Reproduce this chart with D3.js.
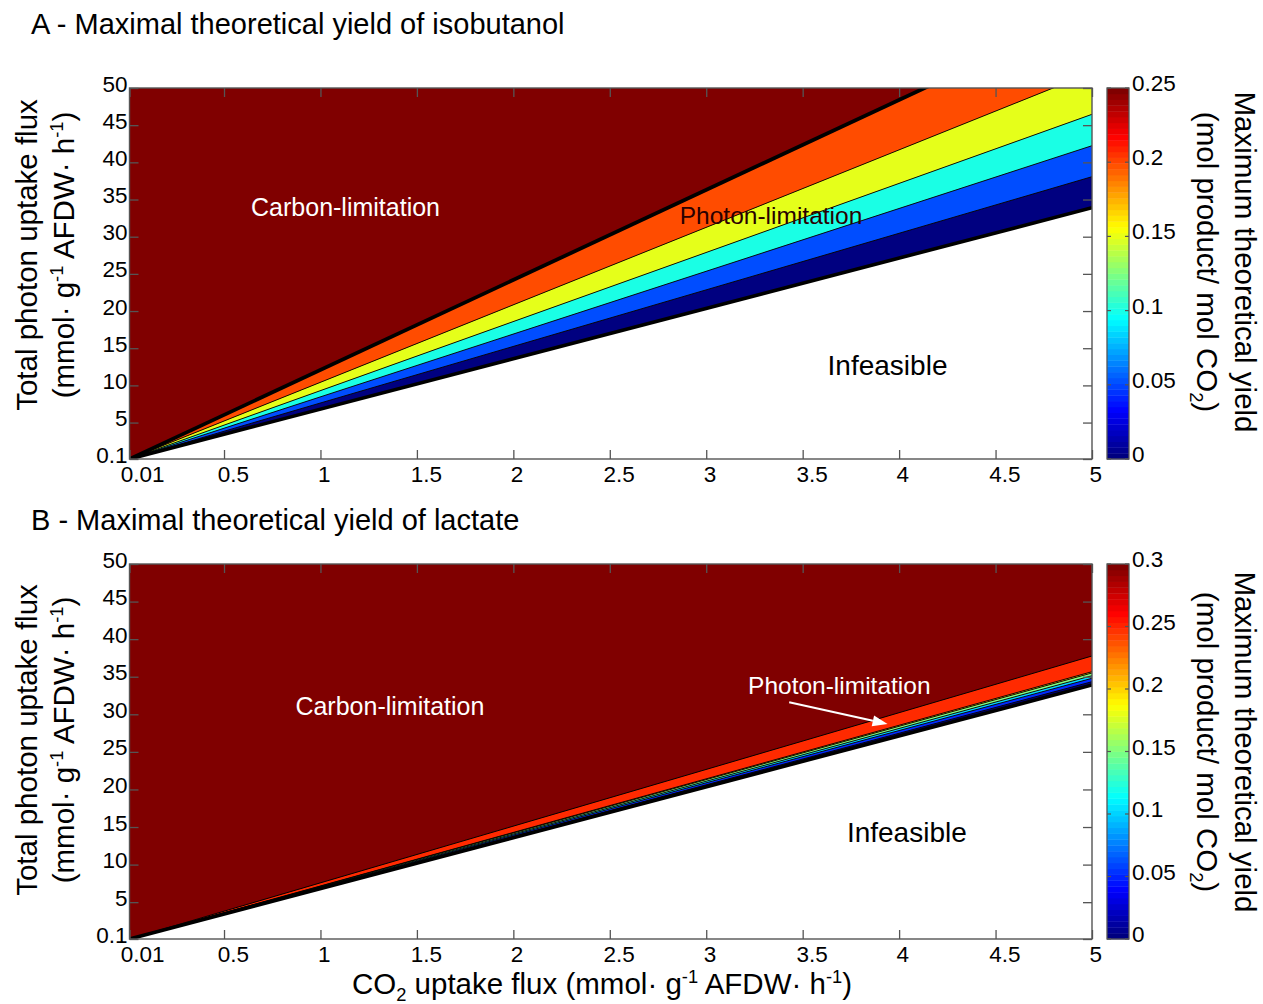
<!DOCTYPE html>
<html>
<head>
<meta charset="utf-8">
<script src="https://cdn.jsdelivr.net/npm/d3@7"></script>
<style>
  body { margin: 0; background: #fff; }
  svg text { font-family: "Liberation Sans", Arial, Helvetica, sans-serif; fill: #000; }
</style>
</head>
<body>
<svg id="fig" width="1263" height="1004"></svg>
<script>
// ---- data ---------------------------------------------------------------
const co2Domain = [0.01, 5];
const photonDomain = [0.1, 50];
const co2Ticks = [0.01, 0.5, 1, 1.5, 2, 2.5, 3, 3.5, 4, 4.5, 5];
const co2TickLabels = ["0.01", "0.5", "1", "1.5", "2", "2.5", "3", "3.5", "4", "4.5", "5"];
const photonTicks = [0.1, 5, 10, 15, 20, 25, 30, 35, 40, 45, 50];
const photonTickLabels = ["0.1", "5", "10", "15", "20", "25", "30", "35", "40", "45", "50"];

// Isobutanol: yield contour levels and the photon flux at which each
// contour line reaches CO2 uptake = 5 (all contours start at the origin corner)
const isoLevels = [0, 0.05, 0.1, 0.15, 0.2, 0.25];
const isoPhotonAtCO2Max = [33.9, 38.07, 42.24, 46.46, 52.1, 60.5];
const isoColorTicks = [0, 0.05, 0.1, 0.15, 0.2, 0.25];
const isoColorTickLabels = ["0", "0.05", "0.1", "0.15", "0.2", "0.25"];

// Lactate: same layout of contours
const lacLevels = [0, 0.05, 0.1, 0.15, 0.2, 0.25, 0.3];
const lacPhotonAtCO2Max = [33.9, 34.34, 34.79, 35.14, 35.5, 35.67, 37.76];
const lacColorTicks = [0, 0.05, 0.1, 0.15, 0.2, 0.25, 0.3];
const lacColorTickLabels = ["0", "0.05", "0.1", "0.15", "0.2", "0.25", "0.3"];

// ---- helpers ------------------------------------------------------------
function jet(t) {
  const c = v => Math.max(0, Math.min(1, v));
  const r = c(Math.min(4 * t - 1.5, -4 * t + 4.5));
  const g = c(Math.min(4 * t - 0.5, -4 * t + 3.5));
  const b = c(Math.min(4 * t + 0.5, -4 * t + 2.5));
  return d3.rgb(r * 255, g * 255, b * 255).formatHex();
}

const svg = d3.select("#fig");
const LEFT = 129.5, RIGHT = 1092;
const CB_X = 1107, CB_W = 22;
const AXIS_COLOR = "#555";
const LABEL_SIZE = 29.5;

// text with superscript / subscript pieces as tspans
function richText(sel, parts, size) {
  let pending = 0;
  parts.forEach(p => {
    if (typeof p === "string") {
      const ts = sel.append("tspan").text(p);
      if (pending) ts.attr("dy", pending);
      pending = 0;
    } else {
      const shift = p.sup ? -size * 0.38 : size * 0.25;
      const ts = sel.append("tspan").attr("dy", shift + pending).attr("font-size", size * 0.62).text(p.sup || p.sub);
      pending = -shift;
    }
  });
}

function drawPanel(cfg) {
  const x = d3.scaleLinear().domain(co2Domain).range([LEFT, RIGHT]);
  const y = d3.scaleLinear().domain(photonDomain).range([cfg.bottom, cfg.top]);
  const g = svg.append("g");
  const clipId = "clip-" + cfg.id;
  g.append("clipPath").attr("id", clipId)
    .append("rect")
    .attr("x", x(co2Domain[0])).attr("y", y(photonDomain[1]))
    .attr("width", x(co2Domain[1]) - x(co2Domain[0]))
    .attr("height", y(photonDomain[0]) - y(photonDomain[1]));

  const plot = g.append("g").attr("clip-path", `url(#${clipId})`);
  const cmax = cfg.levels[cfg.levels.length - 1];
  const x0 = co2Domain[0], y0 = photonDomain[0], x1 = co2Domain[1];
  const line = d3.line().x(d => x(d[0])).y(d => y(d[1]));

  // carbon-limited region: maximal yield everywhere above the last contour
  plot.append("rect")
    .attr("x", x(x0)).attr("y", y(photonDomain[1]))
    .attr("width", x(x1) - x(x0)).attr("height", y(y0) - y(photonDomain[1]))
    .attr("fill", jet(1));

  // infeasible region below the zero-yield contour
  plot.append("path")
    .attr("d", line([[x0, y0], [x1, cfg.photonAtMax[0]], [x1, y0]]) + "Z")
    .attr("fill", "#fff");

  // filled bands between consecutive contours
  for (let i = 0; i < cfg.levels.length - 1; i++) {
    plot.append("path")
      .attr("d", line([[x0, y0], [x1, cfg.photonAtMax[i]], [x1, cfg.photonAtMax[i + 1]]]) + "Z")
      .attr("fill", jet(cfg.levels[i] / cmax));
  }

  // contour lines
  cfg.photonAtMax.forEach((v, i) => {
    const last = i === cfg.levels.length - 1;
    plot.append("path")
      .attr("d", line([[x0, y0], [x1, v]]))
      .attr("fill", "none")
      .attr("stroke", "#000")
      .attr("stroke-width", i === 0 ? 3.6 : (last ? cfg.upperWidth : 0.9));
  });

  // axes with inward ticks on all four sides
  const tickStyle = s => {
    s.select(".domain").remove();
    s.selectAll(".tick text").remove();
    s.selectAll(".tick line").attr("stroke", AXIS_COLOR).attr("stroke-width", 1.3);
  };
  g.append("g").attr("transform", `translate(0,${cfg.bottom})`)
    .call(d3.axisBottom(x).tickValues(co2Ticks).tickSizeInner(-9).tickSizeOuter(0))
    .call(tickStyle);
  g.append("g").attr("transform", `translate(0,${cfg.top})`)
    .call(d3.axisTop(x).tickValues(co2Ticks).tickSizeInner(-9).tickSizeOuter(0))
    .call(tickStyle);
  g.append("g").attr("transform", `translate(${LEFT},0)`)
    .call(d3.axisLeft(y).tickValues(photonTicks).tickSizeInner(-9).tickSizeOuter(0))
    .call(tickStyle);
  g.append("g").attr("transform", `translate(${RIGHT},0)`)
    .call(d3.axisRight(y).tickValues(photonTicks).tickSizeInner(-9).tickSizeOuter(0))
    .call(tickStyle);
  g.append("rect")
    .attr("x", x(x0)).attr("y", y(photonDomain[1]))
    .attr("width", x(x1) - x(x0)).attr("height", y(y0) - y(photonDomain[1]))
    .attr("fill", "none").attr("stroke", AXIS_COLOR).attr("stroke-width", 1.4);

  // tick labels
  co2Ticks.forEach((t, i) => {
    const txt = g.append("text")
      .attr("y", cfg.bottom + 23)
      .attr("font-size", 22.5)
      .attr("text-anchor", "middle")
      .text(co2TickLabels[i]);
    const w = txt.node().getComputedTextLength();
    txt.attr("x", x(t) + 0.3 * w);
  });
  photonTicks.forEach((t, i) => {
    g.append("text")
      .attr("x", LEFT - 2)
      .attr("y", y(t) + 3.5)
      .attr("font-size", 22.5)
      .attr("text-anchor", "end")
      .text(photonTickLabels[i]);
  });

  // y-axis title (two lines)
  g.append("text")
    .attr("transform", `translate(37,${cfg.labelMid}) rotate(-90)`)
    .attr("text-anchor", "middle").attr("font-size", LABEL_SIZE)
    .text("Total photon uptake flux");
  const yl2 = g.append("text")
    .attr("transform", `translate(74,${cfg.labelMid}) rotate(-90)`)
    .attr("text-anchor", "middle").attr("font-size", LABEL_SIZE);
  richText(yl2, ["(mmol\u00B7 g", { sup: "-1" }, " AFDW\u00B7 h", { sup: "-1" }, ")"], LABEL_SIZE);

  // panel title
  g.append("text")
    .attr("x", 31).attr("y", cfg.titleY)
    .attr("font-size", 29)
    .text(cfg.title);

  // region annotations
  cfg.notes.forEach(n => {
    g.append("text")
      .attr("x", x(n.at[0])).attr("y", y(n.at[1]))
      .attr("dy", "0.36em")
      .attr("text-anchor", "middle")
      .attr("font-size", n.size)
      .style("fill", n.color)
      .text(n.text);
  });

  if (cfg.arrow) {
    const [a, b] = cfg.arrow;
    const ax = x(a[0]), ay = y(a[1]), bx = x(b[0]), by = y(b[1]);
    const ang = Math.atan2(by - ay, bx - ax);
    const hl = 15, hw = 5.5;
    const baseX = bx - hl * Math.cos(ang), baseY = by - hl * Math.sin(ang);
    g.append("line")
      .attr("x1", ax).attr("y1", ay).attr("x2", baseX).attr("y2", baseY)
      .attr("stroke", "#fff").attr("stroke-width", 2);
    g.append("path")
      .attr("d", `M${bx},${by} L${baseX - hw * Math.sin(ang)},${baseY + hw * Math.cos(ang)} L${baseX + hw * Math.sin(ang)},${baseY - hw * Math.cos(ang)} Z`)
      .attr("fill", "#fff");
  }

  // colorbar
  const cy = d3.scaleLinear().domain([0, cmax]).range([cfg.bottom, cfg.top]);
  const nColors = 64;
  const cb = g.append("g");
  d3.range(nColors).forEach(k => {
    const v0 = cmax * k / nColors, v1 = cmax * (k + 1) / nColors;
    cb.append("rect")
      .attr("x", CB_X).attr("y", cy(v1))
      .attr("width", CB_W).attr("height", cy(v0) - cy(v1) + 0.4)
      .attr("fill", jet(k / (nColors - 1)));
  });
  cfg.colorTicks.forEach((t, i) => {
    cb.append("line").attr("x1", CB_X).attr("x2", CB_X + 4).attr("y1", cy(t)).attr("y2", cy(t))
      .attr("stroke", AXIS_COLOR).attr("stroke-width", 1.2);
    cb.append("line").attr("x1", CB_X + CB_W - 4).attr("x2", CB_X + CB_W).attr("y1", cy(t)).attr("y2", cy(t))
      .attr("stroke", AXIS_COLOR).attr("stroke-width", 1.2);
    cb.append("text")
      .attr("x", CB_X + CB_W + 3).attr("y", cy(t) + 3)
      .attr("font-size", 22.5)
      .text(cfg.colorTickLabels[i]);
  });
  cb.append("rect")
    .attr("x", CB_X).attr("y", cfg.top).attr("width", CB_W).attr("height", cfg.bottom - cfg.top)
    .attr("fill", "none").attr("stroke", AXIS_COLOR).attr("stroke-width", 1.3);

  // colorbar title (two lines, rotated clockwise)
  cb.append("text")
    .attr("transform", `translate(1235,${cfg.cbLabelMid}) rotate(90)`)
    .attr("text-anchor", "middle").attr("font-size", LABEL_SIZE)
    .text("Maximum theoretical yield");
  const cl2 = cb.append("text")
    .attr("transform", `translate(1197,${cfg.cbLabelMid}) rotate(90)`)
    .attr("text-anchor", "middle").attr("font-size", LABEL_SIZE);
  richText(cl2, ["(mol product/ mol CO", { sub: "2" }, ")"], LABEL_SIZE);

  return { x, y };
}

drawPanel({
  id: "a", top: 88, bottom: 459,
  levels: isoLevels, photonAtMax: isoPhotonAtCO2Max,
  colorTicks: isoColorTicks, colorTickLabels: isoColorTickLabels,
  upperWidth: 3.8,
  title: "A - Maximal theoretical yield of isobutanol", titleY: 34,
  labelMid: 255, cbLabelMid: 262,
  notes: [
    { text: "Carbon-limitation", at: [1.13, 34.0], size: 25, color: "#fff" },
    { text: "Photon-limitation", at: [3.336, 32.9], size: 24.5, color: "#2a0000" },
    { text: "Infeasible", at: [3.94, 12.7], size: 28, color: "#000" }
  ]
});

drawPanel({
  id: "b", top: 564, bottom: 939,
  levels: lacLevels, photonAtMax: lacPhotonAtCO2Max,
  colorTicks: lacColorTicks, colorTickLabels: lacColorTickLabels,
  upperWidth: 1,
  title: "B - Maximal theoretical yield of lactate", titleY: 530,
  labelMid: 740, cbLabelMid: 742,
  notes: [
    { text: "Carbon-limitation", at: [1.36, 31.1], size: 25, color: "#fff" },
    { text: "Photon-limitation", at: [3.69, 33.9], size: 24.5, color: "#fff" },
    { text: "Infeasible", at: [4.04, 14.3], size: 28, color: "#000" }
  ],
  arrow: [[3.43, 31.6], [3.94, 28.7]]
});

// shared x-axis title under the lower panel
const xt = svg.append("text")
  .attr("x", 602).attr("y", 994)
  .attr("text-anchor", "middle")
  .attr("font-size", LABEL_SIZE);
richText(xt, ["CO", { sub: "2" }, " uptake flux (mmol\u00B7 g", { sup: "-1" }, " AFDW\u00B7 h", { sup: "-1" }, ")"], LABEL_SIZE);
</script>
</body>
</html>
